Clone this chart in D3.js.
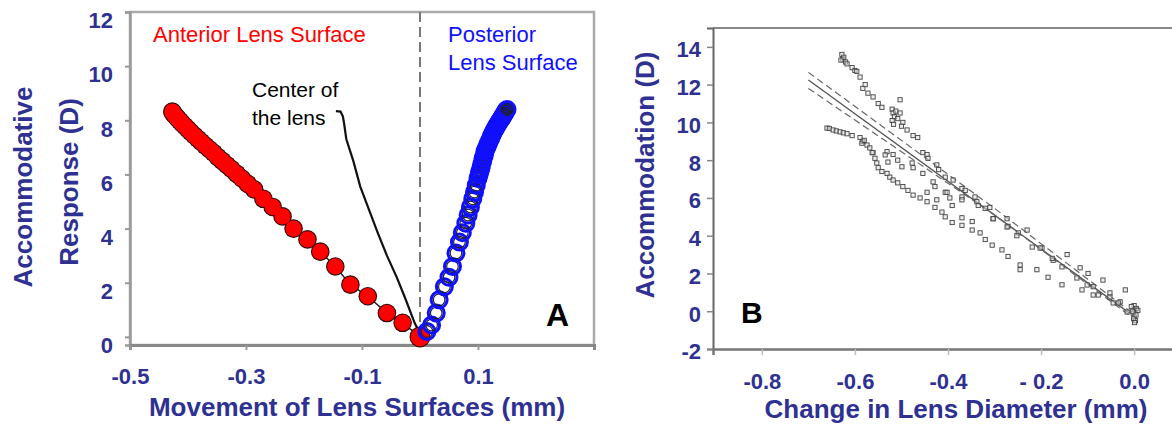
<!DOCTYPE html>
<html>
<head>
<meta charset="utf-8">
<script src="https://cdn.jsdelivr.net/npm/d3@7"></script>
<style>
  body { margin: 0; background: #fff; }
  svg { display: block; }
  * { font-family: "Liberation Sans", Arial, Helvetica, sans-serif; }
  .tick text { font-weight: 700; font-size: 22px; fill: #2e3192; }
</style>
</head>
<body>
<div id="chart"></div>
<script>
// ---- panel A data ----
const yTicksA = [0, 2, 4, 6, 8, 10, 12];
const xTicksA = [-0.5, -0.3, -0.1, 0.1];
const xTickLabelsA = ["-0.5", "-0.3", "-0.1", "0.1"];
const anterior = [
  [0, 0], [-0.03, 0.52], [-0.057, 0.88], [-0.09, 1.5], [-0.12, 1.93], [-0.146, 2.6],
  [-0.172, 3.15], [-0.194, 3.6], [-0.218, 4.0], [-0.237, 4.45], [-0.254, 4.8], [-0.27, 5.1],
  [-0.286, 5.45], [-0.297, 5.65], [-0.307, 5.85], [-0.316, 6.02], [-0.325, 6.2], [-0.333, 6.35],
  [-0.341, 6.5], [-0.349, 6.65], [-0.356, 6.8], [-0.363, 6.93], [-0.37, 7.06], [-0.377, 7.2],
  [-0.383, 7.32], [-0.389, 7.44], [-0.395, 7.56], [-0.4, 7.67], [-0.405, 7.78], [-0.41, 7.88],
  [-0.414, 7.98], [-0.418, 8.07], [-0.421, 8.15], [-0.424, 8.22], [-0.426, 8.28], [-0.427, 8.32]
];
const posterior = [
  [0.012, 0.2], [0.02, 0.44], [0.028, 0.88], [0.033, 1.37], [0.042, 1.85], [0.05, 2.2],
  [0.056, 2.6], [0.062, 3.1], [0.068, 3.5], [0.073, 3.85], [0.079, 4.2], [0.083, 4.5],
  [0.087, 4.8], [0.091, 5.1], [0.094, 5.35], [0.097, 5.6], [0.1, 5.85], [0.102, 6.0],
  [0.103, 6.1], [0.105, 6.22], [0.106, 6.35], [0.108, 6.48], [0.109, 6.6], [0.111, 6.72],
  [0.112, 6.85], [0.114, 6.95], [0.116, 7.05], [0.118, 7.15], [0.12, 7.25], [0.122, 7.35],
  [0.124, 7.45], [0.126, 7.54], [0.128, 7.62], [0.13, 7.7], [0.132, 7.78], [0.134, 7.85],
  [0.136, 7.92], [0.138, 7.99], [0.14, 8.05], [0.142, 8.11], [0.143, 8.17], [0.145, 8.22],
  [0.146, 8.27], [0.148, 8.35], [0.15, 8.4]
];
const lensCenter = [
  [-0.145, 8.34], [-0.137, 8.32], [-0.133, 8.15], [-0.131, 7.9], [-0.127, 7.3], [-0.115, 6.5],
  [-0.103, 5.55], [-0.088, 4.7], [-0.073, 3.85], [-0.057, 3.0], [-0.04, 2.2], [-0.025, 1.4],
  [-0.009, 0.5], [-0.004, 0.3]
];

// ---- panel B data ----
const yTicksB = [-2, 0, 2, 4, 6, 8, 10, 12, 14];
const yTickLabelsB = ["-2", "0", "2", "4", "6", "8", "10", "12", "14"];
const xTicksB = [-0.8, -0.6, -0.4, -0.2, 0.0];
const xTickLabelsB = ["-0.8", "-0.6", "-0.4", "- 0.2", "0.0"];
const trackUpper = [
  [-0.628, 13.6], [-0.626, 13.35], [-0.624, 13.45], [-0.63, 13.3], [-0.62, 13.2], [-0.617, 13.1],
  [-0.606, 12.9], [-0.6, 12.75], [-0.596, 12.7], [-0.589, 12.4], [-0.578, 12.0], [-0.583, 11.8],
  [-0.572, 11.55], [-0.561, 11.35], [-0.55, 11.0], [-0.542, 10.8], [-0.503, 11.2], [-0.52, 10.7],
  [-0.518, 10.5], [-0.515, 10.3], [-0.52, 10.1], [-0.517, 9.9], [-0.512, 10.6], [-0.508, 10.2],
  [-0.503, 10.5], [-0.497, 10.0], [-0.5, 9.8], [-0.488, 9.6], [-0.475, 9.3], [-0.465, 9.2],
  [-0.454, 8.4], [-0.445, 8.3], [-0.443, 8.1], [-0.424, 7.75], [-0.42, 7.5], [-0.406, 7.1],
  [-0.389, 6.95], [-0.37, 6.5], [-0.363, 6.4], [-0.342, 6.05], [-0.338, 5.8], [-0.32, 5.45],
  [-0.31, 5.5], [-0.303, 4.9], [-0.273, 4.9], [-0.271, 4.5], [-0.249, 4.15], [-0.23, 4.3],
  [-0.219, 3.4], [-0.198, 3.35], [-0.174, 2.7], [-0.144, 3.0], [-0.116, 2.3], [-0.099, 2.0],
  [-0.067, 1.65], [-0.052, 0.97], [-0.019, 1.13], [-0.03, 0.5]
];
const trackLower = [
  [-0.66, 9.7], [-0.655, 9.68], [-0.647, 9.6], [-0.64, 9.55], [-0.632, 9.5], [-0.625, 9.45],
  [-0.617, 9.4], [-0.606, 9.3], [-0.589, 9.2], [-0.583, 9.0], [-0.585, 8.9], [-0.58, 9.05],
  [-0.574, 8.8], [-0.568, 8.65], [-0.561, 8.4], [-0.557, 8.1], [-0.553, 7.85], [-0.55, 7.6],
  [-0.542, 7.4], [-0.531, 7.3], [-0.525, 7.1], [-0.518, 6.95], [-0.508, 6.8], [-0.497, 6.6],
  [-0.486, 6.4], [-0.475, 6.15], [-0.46, 6.0], [-0.445, 5.8], [-0.428, 5.5], [-0.413, 5.25],
  [-0.406, 5.0], [-0.391, 4.7], [-0.37, 4.55], [-0.348, 4.3], [-0.331, 4.15], [-0.32, 3.8],
  [-0.305, 3.5], [-0.284, 3.25], [-0.271, 2.9], [-0.245, 2.45], [-0.245, 2.2], [-0.209, 2.2],
  [-0.185, 1.8], [-0.155, 1.4], [-0.112, 1.13], [-0.088, 0.86], [-0.052, 0.75], [-0.034, 0.44]
];
const trackMiddle = [
  [-0.563, 8.4], [-0.531, 8.45], [-0.518, 8.3], [-0.529, 7.9], [-0.508, 8.0], [-0.499, 7.65],
  [-0.477, 7.85], [-0.475, 7.6], [-0.454, 7.3], [-0.432, 6.85], [-0.428, 6.6], [-0.445, 6.3],
  [-0.424, 5.9], [-0.406, 6.3], [-0.396, 6.0], [-0.391, 5.6], [-0.37, 6.05], [-0.37, 4.95],
  [-0.348, 4.75], [-0.535, 8.28], [-0.402, 6.3], [-0.37, 5.9], [-0.335, 5.6], [-0.303, 4.9],
  [-0.273, 4.46], [-0.252, 4.0], [-0.202, 3.35], [-0.176, 2.8], [-0.155, 2.35], [-0.123, 1.76],
  [-0.101, 1.39], [-0.077, 0.86], [-0.045, 0.44], [-0.015, -0.04], [-0.088, 1.3]
];
const zeroCluster = [
  [0, 0.3], [0.002, 0.1], [-0.002, -0.1], [0, -0.3], [0.003, -0.5], [-0.003, 0.0],
  [0.005, 0.15], [-0.001, -0.4], [0.001, -0.6], [0.008, 0.05], [-0.006, 0.25], [0.004, -0.2]
];
const fitLine = [[-0.7, 12.25], [-0.01, -0.1]];
const upperBand = [[-0.7, 12.65], [-0.3, 5.45], [-0.01, 0.02]];
const lowerBand = [[-0.7, 11.8], [-0.3, 5.1], [-0.01, -0.22]];

const width = 1172;
const height = 426;
const navy = "#2e3192";

const svg = d3.select("#chart")
  .append("svg")
  .attr("width", width)
  .attr("height", height)
  .attr("viewBox", `0 0 ${width} ${height}`);

svg.append("rect").attr("width", width).attr("height", height).attr("fill", "#fff");

const styleTicks = sel => sel
  .attr("fill", navy)
  .attr("font-weight", "bold")
  .attr("font-size", 22);

// ================= Panel A =================
const xA = d3.scaleLinear().domain([-0.5, 0.3]).range([130, 594]);
const yA = d3.scaleLinear().domain([-0.3, 12]).range([345, 12]);

const gA = svg.append("g");

// frame
gA.append("rect")
  .attr("x", xA(-0.5))
  .attr("y", yA(12))
  .attr("width", xA(0.3) - xA(-0.5))
  .attr("height", yA(-0.3) - yA(12))
  .attr("fill", "none")
  .attr("stroke", "#aaa")
  .attr("stroke-width", 2.5);

// y axis
const yAxisA = gA.append("g")
  .attr("transform", `translate(${xA(-0.5)},0)`)
  .call(d3.axisLeft(yA).tickValues(yTicksA).tickSize(5).tickPadding(12).tickFormat(d3.format("d")));
yAxisA.attr("font-weight", "bold");
yAxisA.select(".domain").attr("stroke", "#999").attr("stroke-width", 2.5);
yAxisA.selectAll(".tick line").attr("stroke", "#999").attr("stroke-width", 2);
yAxisA.selectAll(".tick text").attr("dy", "0.72em").call(styleTicks);

// x axis
const xAxisA = gA.append("g")
  .attr("transform", `translate(0,${yA(-0.3)})`)
  .call(d3.axisBottom(xA).tickValues(xTicksA).tickSize(5).tickPadding(18)
    .tickFormat((d, i) => xTickLabelsA[i]));
xAxisA.attr("font-weight", "bold");
xAxisA.select(".domain").attr("stroke", "#888").attr("stroke-width", 3);
xAxisA.selectAll(".tick line").attr("stroke", "#999").attr("stroke-width", 2);
xAxisA.selectAll(".tick text").call(styleTicks);

// dashed zero line
gA.append("line")
  .attr("x1", xA(0)).attr("x2", xA(0))
  .attr("y1", yA(12)).attr("y2", yA(-0.3))
  .attr("stroke", "#777")
  .attr("stroke-width", 2)
  .attr("stroke-dasharray", "10,5");

const lineA = d3.line().x(d => xA(d[0])).y(d => yA(d[1]));

// center of the lens
gA.append("path")
  .datum(lensCenter)
  .attr("d", lineA)
  .attr("fill", "none")
  .attr("stroke", "#111")
  .attr("stroke-width", 2.2);

// anterior surface: dark outline layer, then red fill layer
gA.append("path")
  .datum(anterior)
  .attr("d", lineA)
  .attr("fill", "none")
  .attr("stroke", "#222")
  .attr("stroke-width", 1.5);
gA.append("g")
  .selectAll("circle")
  .data(anterior)
  .join("circle")
  .attr("cx", d => xA(d[0]))
  .attr("cy", d => yA(d[1]))
  .attr("r", d => (d[1] === 0 ? 10.5 : 9.3))
  .attr("fill", "#2a0a0a");
gA.append("g")
  .selectAll("circle")
  .data(anterior)
  .join("circle")
  .attr("cx", d => xA(d[0]))
  .attr("cy", d => yA(d[1]))
  .attr("r", d => (d[1] === 0 ? 9.5 : 8.2))
  .attr("fill", "#ff0000");

// posterior surface
const postG = gA.append("g").selectAll("g")
  .data(posterior)
  .join("g")
  .attr("transform", d => `translate(${xA(d[0])},${yA(d[1])})`);
postG.append("circle")
  .attr("r", 5.8)
  .attr("fill", "none")
  .attr("stroke", "#222")
  .attr("stroke-width", 1.2);
postG.append("circle")
  .attr("r", 8)
  .attr("fill", "none")
  .attr("stroke", "#1010ff")
  .attr("stroke-width", 3);

// labels
gA.append("text")
  .attr("x", 153).attr("y", 42)
  .attr("fill", "#ff0000")
  .style("font-size", "22px")
  .text("Anterior Lens Surface");
gA.append("text")
  .attr("x", 448).attr("y", 42)
  .attr("fill", "#1010ff")
  .style("font-size", "22px")
  .text("Posterior");
gA.append("text")
  .attr("x", 448).attr("y", 70)
  .attr("fill", "#1010ff")
  .style("font-size", "22px")
  .text("Lens Surface");
gA.append("text")
  .attr("x", 252).attr("y", 97)
  .attr("fill", "#000")
  .style("font-size", "21px")
  .text("Center of");
gA.append("text")
  .attr("x", 252).attr("y", 125)
  .attr("fill", "#000")
  .style("font-size", "21px")
  .text("the lens");
gA.append("text")
  .attr("x", 546).attr("y", 326)
  .attr("fill", "#000")
  .style("font-size", "32px")
  .style("font-weight", "bold")
  .text("A");

// axis titles
gA.append("text")
  .attr("transform", "translate(32,187) rotate(-90)")
  .attr("text-anchor", "middle")
  .attr("fill", navy)
  .style("font-size", "26px")
  .style("font-weight", "bold")
  .text("Accommodative");
gA.append("text")
  .attr("transform", "translate(78,182) rotate(-90)")
  .attr("text-anchor", "middle")
  .attr("fill", navy)
  .style("font-size", "26px")
  .style("font-weight", "bold")
  .text("Response (D)");
gA.append("text")
  .attr("x", 357).attr("y", 416)
  .attr("text-anchor", "middle")
  .attr("fill", navy)
  .style("font-size", "26px")
  .style("font-weight", "bold")
  .text("Movement of Lens Surfaces (mm)");

// ================= Panel B =================
const xB = d3.scaleLinear().domain([-0.905, 0.09]).range([713, 1176]);
const yB = d3.scaleLinear().domain([-2, 15]).range([349, 28]);

const gB = svg.append("g");

// top frame line
gB.append("line")
  .attr("x1", xB(-0.905)).attr("x2", xB(0.09))
  .attr("y1", yB(15)).attr("y2", yB(15))
  .attr("stroke", "#888")
  .attr("stroke-width", 2);

const yAxisB = gB.append("g")
  .attr("transform", `translate(${xB(-0.905)},0)`)
  .call(d3.axisLeft(yB).tickValues(yTicksB).tickSize(6).tickPadding(6)
    .tickFormat((d, i) => yTickLabelsB[i]));
yAxisB.attr("font-weight", "bold");
yAxisB.select(".domain").attr("stroke", "#666").attr("stroke-width", 2);
yAxisB.selectAll(".tick line").attr("stroke", "#888").attr("stroke-width", 1.5);
yAxisB.selectAll(".tick text").attr("dy", "0.45em").call(styleTicks);

const xAxisB = gB.append("g")
  .attr("transform", `translate(0,${yB(-2)})`)
  .call(d3.axisBottom(xB).tickValues(xTicksB).tickSize(6).tickPadding(18)
    .tickFormat((d, i) => xTickLabelsB[i]));
xAxisB.attr("font-weight", "bold");
xAxisB.select(".domain").attr("stroke", "#777").attr("stroke-width", 2.5);
xAxisB.selectAll(".tick line").attr("stroke", "#bbb").attr("stroke-width", 1.5);
xAxisB.selectAll(".tick text").call(styleTicks);

const lineB = d3.line().x(d => xB(d[0])).y(d => yB(d[1]));

gB.append("path")
  .datum(fitLine)
  .attr("d", lineB)
  .attr("fill", "none")
  .attr("stroke", "#555")
  .attr("stroke-width", 1.3);
[upperBand, lowerBand].forEach(band => {
  gB.append("path")
    .datum(band)
    .attr("d", lineB)
    .attr("fill", "none")
    .attr("stroke", "#666")
    .attr("stroke-width", 1.2)
    .attr("stroke-dasharray", "7,4");
});

const allPoints = trackUpper.concat(trackLower, trackMiddle, zeroCluster);
const sq = 4.2;
gB.append("g")
  .selectAll("rect")
  .data(allPoints)
  .join("rect")
  .attr("x", d => xB(d[0]) - sq / 2)
  .attr("y", d => yB(d[1]) - sq / 2)
  .attr("width", sq)
  .attr("height", sq)
  .attr("fill", "#e0e0e0")
  .attr("fill-opacity", 0.5)
  .attr("stroke", "#444")
  .attr("stroke-width", 0.9);

gB.append("text")
  .attr("x", 741).attr("y", 323)
  .attr("fill", "#000")
  .style("font-size", "30px")
  .style("font-weight", "bold")
  .text("B");

gB.append("text")
  .attr("transform", "translate(654,175) rotate(-90)")
  .attr("text-anchor", "middle")
  .attr("fill", navy)
  .style("font-size", "26px")
  .style("font-weight", "bold")
  .text("Accommodation (D)");
gB.append("text")
  .attr("x", 956).attr("y", 418)
  .attr("text-anchor", "middle")
  .attr("fill", navy)
  .style("font-size", "26px")
  .style("font-weight", "bold")
  .text("Change in Lens Diameter (mm)");
</script>
</body>
</html>
